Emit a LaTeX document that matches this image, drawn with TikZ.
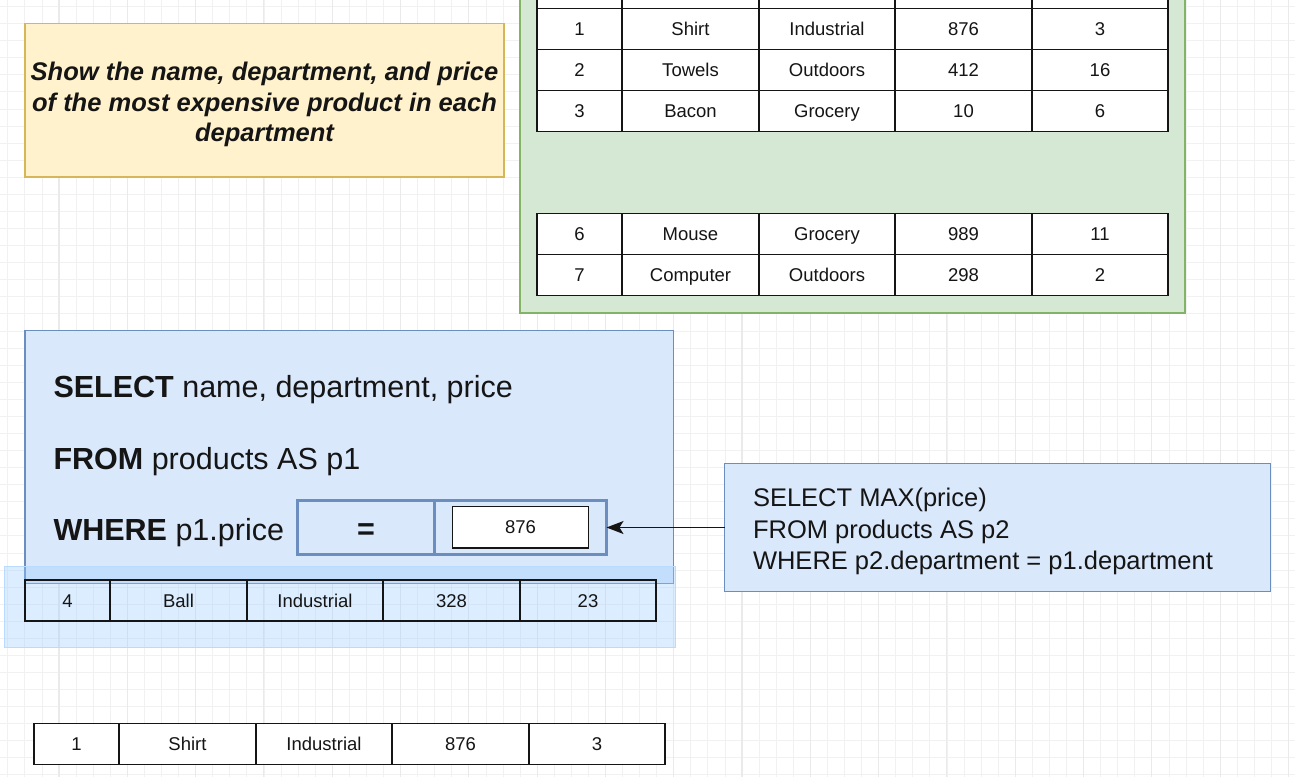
\documentclass[tikz,border=0pt]{standalone}
\usepackage{fontspec}
\setmainfont{Liberation Sans}
\usetikzlibrary{arrows.meta}
\definecolor{gridminor}{HTML}{F1F1F1}
\definecolor{gridmajor}{HTML}{EAEAEA}
\definecolor{yfill}{HTML}{FFF2CC}
\definecolor{ydraw}{HTML}{D6B656}
\definecolor{gfill}{HTML}{D5E8D4}
\definecolor{gdraw}{HTML}{82B366}
\definecolor{bfill}{HTML}{DAE8FC}
\definecolor{bdraw}{HTML}{6C8EBF}
\definecolor{hlcol}{HTML}{99CCFF}
\definecolor{ink}{HTML}{151515}
\newcommand\prow[9]{%
  \node[cell,#9,minimum width=85pt] (#1a) at (#2,#3) {#4};
  \node[cell,#9,minimum width=137pt] (#1b) at (#1a.north east) {#5};
  \node[cell,#9,minimum width=136pt] (#1c) at (#1b.north east) {#6};
  \node[cell,#9,minimum width=137pt] (#1d) at (#1c.north east) {#7};
  \node[cell,#9,minimum width=136pt] (#1e) at (#1d.north east) {#8};}
\begin{document}
\begin{tikzpicture}[x=1pt,y=-1pt,
  cell/.style={draw=ink, line width=1.4pt, minimum height=41pt, inner sep=0pt, outer sep=0pt,
    anchor=north west, text height=13.2pt, text depth=0pt,
    font=\fontsize{18.5}{22}\selectfont, text=ink},
  whitecell/.style={fill=white},
  clearcell/.style={},
  box/.style={line width=1.3pt, inner sep=0pt, outer sep=0pt, anchor=north west},
  yellowbox/.style={box, draw=ydraw, fill=yfill},
  greenbox/.style={box, draw=gdraw, fill=gfill},
  bluebox/.style={box, draw=bdraw, fill=bfill},
  wherecell/.style={box, draw=bdraw, line width=3pt, minimum height=53.5pt},
  hlbox/.style={box, line width=0.8pt, draw=hlcol!70, fill=hlcol, fill opacity=0.35},
  qtext/.style={inner sep=0pt, outer sep=0pt, anchor=base west, text=ink, font=\fontsize{30.5}{36}\selectfont},
  subtext/.style={inner sep=0pt, outer sep=0pt, anchor=base west, text=ink, font=\fontsize{25.5}{30}\selectfont},
  titletext/.style={inner sep=0pt, outer sep=0pt, anchor=base, text=ink, font=\fontsize{25.5}{30}\selectfont\bfseries\itshape},
  link/.style={draw=ink, line width=1.3pt, -{Stealth[length=17pt,width=13pt,inset=4pt]}}
]
\useasboundingbox (0,0) rectangle (1295,777);
\clip (0,0) rectangle (1295,777);
\fill[white] (0,0) rectangle (1295,777);
% grid
\foreach \i in {0,...,76} \draw[gridminor, line width=0.8pt] ({7.8+17.075*\i},0) -- ++(0,777);
\foreach \i in {0,...,46} \draw[gridminor, line width=0.8pt] (0,{6.5+17.075*\i}) -- ++(1295,0);
\foreach \i in {0,...,18} \draw[gridmajor, line width=1.1pt] ({59+68.3*\i},0) -- ++(0,777);

% question box
\node[yellowbox, minimum width=479pt, minimum height=153.5pt] (question) at (25,23.5) {};
\node[titletext] (t1) at (264.5,80.8) {Show the name, department, and price};
\node[titletext] (t2) at (264.5,111.3) {of the most expensive product in each};
\node[titletext] (t3) at (264.5,141.8) {department};

% products table group
\node[greenbox, minimum width=665pt, minimum height=335pt] (group) at (520,-22) {};
\prow{h}{537}{-32.7}{}{}{}{}{}{whitecell}
\prow{ra}{537}{8.3}{1}{Shirt}{Industrial}{876}{3}{whitecell}
\prow{rb}{537}{49.3}{2}{Towels}{Outdoors}{412}{16}{whitecell}
\prow{rc}{537}{90.3}{3}{Bacon}{Grocery}{10}{6}{whitecell}
\prow{rf}{537}{213.3}{6}{Mouse}{Grocery}{989}{11}{whitecell}
\prow{rg}{537}{254.3}{7}{Computer}{Outdoors}{298}{2}{whitecell}

% main query
\node[bluebox, minimum width=648.5pt, minimum height=252.5pt] (sql) at (25,330.7) {};
\node[qtext] (q1) at (53.5,397.6) {\textbf{SELECT} name, department, price};
\node[qtext] (q2) at (53.5,469) {\textbf{FROM} products AS p1};
\node[qtext] (q3) at (53.5,540) {\textbf{WHERE} p1.price};
\node[wherecell, minimum width=137pt] (weq) at (297.5,500.5) {};
\node[wherecell, minimum width=172pt] (wv) at (weq.north east) {};
\node[inner sep=0pt, text=ink, font=\fontsize{30.5}{36}\selectfont\bfseries, yshift=-4pt] (eqs) at (weq.center) {=};
\node[cell, fill=white, minimum width=136pt, minimum height=41.6pt, anchor=center] (wn) at (wv.center) {876};

% highlighted row
\node[hlbox, minimum width=670.5pt, minimum height=81pt] (hl) at (4.5,566) {};
\prow{rd}{25}{580}{4}{Ball}{Industrial}{328}{23}{clearcell}

% subquery
\node[bluebox, minimum width=546pt, minimum height=128.4pt] (sub) at (724.7,463.3) {};
\node[subtext] (s1) at (753,506.9) {SELECT MAX(price)};
\node[subtext] (s2) at (753,538.2) {FROM products AS p2};
\node[subtext] (s3) at (753,569.5) {WHERE p2.department = p1.department};
\draw[link] (sub.west) -- (sub.west -| wv.east);

% result row
\prow{rr}{34}{723.3}{1}{Shirt}{Industrial}{876}{3}{whitecell}
\end{tikzpicture}
\end{document}
